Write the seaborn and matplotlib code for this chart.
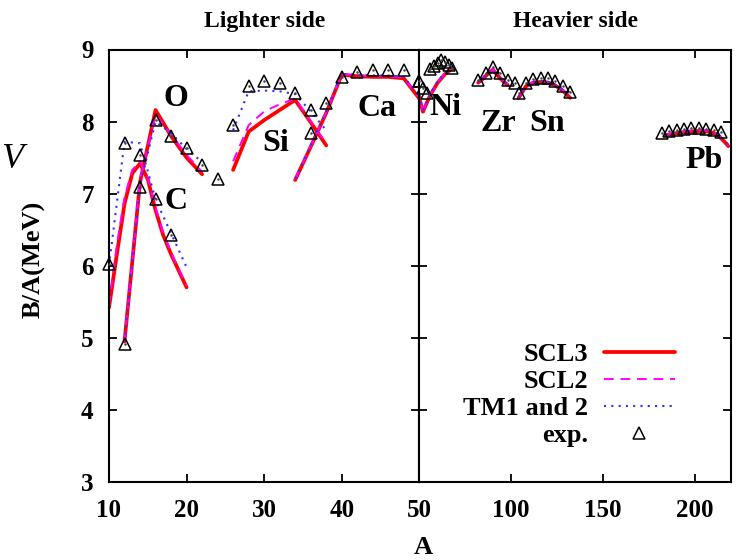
import matplotlib
matplotlib.use("Agg")
import matplotlib.pyplot as plt
from matplotlib.lines import Line2D
import seaborn as sns
import pandas as pd

# ---------------- data ----------------
# Lighter side
C_A = [10, 11, 12, 13, 14, 15, 16, 17, 18, 19, 20]
C_SCL3 = [5.42, 6.15, 6.86, 7.28, 7.42, 7.20, 6.77, 6.42, 6.16, 5.93, 5.70]
C_SCL2 = [5.45, 6.28, 6.95, 7.33, 7.45, 7.22, 6.80, 6.45, 6.18, 5.95, 5.72]
C_A_TM = [10, 12, 14, 16, 18, 20]
C_TM = [6.00, 7.72, 7.70, 6.92, 6.45, 5.98]
C_exp_A = [10, 12, 14, 16, 18]
C_exp = [6.02, 7.70, 7.53, 6.93, 6.42]

O_A = [12, 14, 16, 18, 20, 22]
O_SCL3 = [4.95, 7.16, 8.16, 7.80, 7.50, 7.27]
O_SCL2 = [4.95, 7.20, 8.10, 7.82, 7.54, 7.30]
O_TM = [4.95, 7.12, 8.00, 7.84, 7.62, 7.44]
O_exp_A = [12, 14, 16, 18, 20, 22, 24]
O_exp = [4.91, 7.09, 8.02, 7.80, 7.63, 7.40, 7.20]

Si_A = [26, 28, 30, 32, 34, 36, 38]
Si_SCL3 = [7.33, 7.86, 8.02, 8.16, 8.30, 7.99, 7.67]
Si_SCL2 = [7.45, 7.95, 8.14, 8.24, 8.32, 8.00, 7.70]
Si_TM = [7.88, 8.42, 8.43, 8.42, 8.38, 8.14, 7.88]
Si_exp_A = [26, 28, 30, 32, 34, 36]
Si_exp = [7.95, 8.50, 8.56, 8.53, 8.40, 8.16]

Ca_A = [34, 36, 38, 40, 42, 44, 46, 48, 50, 52]
Ca_SCL3 = [7.19, 7.65, 8.12, 8.65, 8.63, 8.62, 8.62, 8.60, 8.32, 8.14]
Ca_SCL2 = [7.20, 7.66, 8.13, 8.66, 8.64, 8.63, 8.63, 8.61, 8.33, 8.15]
Ca_TM = [7.21, 7.67, 8.14, 8.66, 8.65, 8.64, 8.64, 8.62, 8.35, 8.16]
Ca_exp_A = [36, 38, 40, 42, 44, 46, 48, 50, 52, 54]
Ca_exp = [7.84, 8.26, 8.62, 8.69, 8.71, 8.71, 8.71, 8.56, 8.47, 8.39]

# Heavier side
Ni_A = [52, 56, 60, 64, 68]
Ni_SCL3 = [8.14, 8.37, 8.54, 8.66, 8.74]
Ni_SCL2 = [8.15, 8.38, 8.55, 8.67, 8.75]
Ni_TM = [8.16, 8.39, 8.56, 8.68, 8.76]
Ni_exp_A = [56, 58, 60, 62, 64, 66, 68]
Ni_exp = [8.73, 8.77, 8.81, 8.85, 8.82, 8.78, 8.75]

Zr_A = [82, 84, 86, 88, 90, 92, 94, 96, 98]
Zr_SCL3 = [8.54, 8.58, 8.63, 8.68, 8.72, 8.66, 8.60, 8.55, 8.51]
Zr_SCL2 = [8.55, 8.59, 8.64, 8.69, 8.73, 8.67, 8.61, 8.56, 8.52]
Zr_TM = [8.55, 8.59, 8.64, 8.69, 8.72, 8.66, 8.61, 8.56, 8.52]
Zr_exp_A = [82, 86, 90, 94, 98, 102]
Zr_exp = [8.58, 8.68, 8.76, 8.68, 8.58, 8.53]

Sn_A = [104, 108, 112, 116, 120, 124, 128, 132]
Sn_SCL3 = [8.33, 8.49, 8.54, 8.55, 8.54, 8.50, 8.43, 8.33]
Sn_SCL2 = [8.34, 8.50, 8.55, 8.56, 8.55, 8.51, 8.44, 8.34]
Sn_TM = [8.34, 8.50, 8.55, 8.56, 8.55, 8.51, 8.44, 8.35]
Sn_exp_A = [104, 108, 112, 116, 120, 124, 128, 132]
Sn_exp = [8.40, 8.53, 8.59, 8.61, 8.60, 8.56, 8.50, 8.41]

Pb_A = [184, 190, 196, 202, 208, 212, 216, 218]
Pb_SCL3 = [7.81, 7.84, 7.86, 7.87, 7.86, 7.82, 7.72, 7.66]
Pb_SCL2 = [7.82, 7.85, 7.87, 7.88, 7.87, 7.83, 7.73, 7.67]
Pb_TM = [7.82, 7.85, 7.87, 7.88, 7.87, 7.83, 7.73, 7.68]
Pb_exp_A = [182, 186, 190, 194, 198, 202, 206, 210, 214]
Pb_exp = [7.84, 7.87, 7.89, 7.90, 7.91, 7.91, 7.90, 7.88, 7.85]

labels = [("C", 18.7, 6.89), ("O", 18.6, 8.32), ("Si", 31.5, 7.70), ("Ca", 44.6, 8.18)]
labels_R = [("Ni", 64.0, 8.20), ("Zr", 92.8, 7.98), ("Sn", 119.7, 7.98), ("Pb", 204.6, 7.46)]

# ---------------- style ----------------
sns.set_theme(style="ticks")
plt.rcParams["font.family"] = ["Liberation Serif", "DejaVu Serif"]
plt.rcParams["font.weight"] = "bold"
plt.rcParams["axes.labelweight"] = "bold"
plt.rcParams["axes.titleweight"] = "bold"
for k in ("text.color", "axes.labelcolor", "xtick.color", "ytick.color", "axes.edgecolor"):
    plt.rcParams[k] = "black"

RED = "#ff0000"
MAG = "#ff00ff"
BLUE = "#3030ff"
sty = {
    "SCL3": dict(color=RED, lw=2.7, linestyle="-"),
    "SCL2": dict(color=MAG, lw=1.4, linestyle=(0, (5, 3.5))),
    "TM": dict(color=BLUE, lw=1.5, linestyle=(0, (1, 2.5))),
}

fig = plt.figure(figsize=(7.36, 5.6), dpi=100)
W, H = 736, 560
bot = 1 - 482 / H
hgt = 432.5 / H
axL = fig.add_axes([109 / W, bot, 310.3 / W, hgt])
axR = fig.add_axes([419.3 / W, bot, 311.7 / W, hgt])


def draw_line(ax, A, B, key):
    df = pd.DataFrame({"A": A, "B": B})
    sns.lineplot(data=df, x="A", y="B", ax=ax, estimator=None, sort=False,
                 legend=False, **sty[key])


def draw_exp(ax, A, B, lo, hi):
    df = pd.DataFrame({"A": A, "B": B})
    df = df[(df.A >= lo) & (df.A <= hi)]
    sns.lineplot(data=df, x="A", y="B", ax=ax, estimator=None, sort=False,
                 legend=False, marker="^", linestyle="none", ms=8.5,
                 mfc="none", mec="black", mew=1.1, clip_on=False, zorder=6)
    sns.lineplot(data=df, x="A", y="B", ax=ax, estimator=None, sort=False,
                 legend=False, marker="o", linestyle="none", ms=1.8,
                 mfc="#444444", mec="#444444", mew=0, clip_on=False, zorder=6)


left_chains = [
    (C_A, C_SCL3, C_A, C_SCL2, C_A_TM, C_TM),
    (O_A, O_SCL3, O_A, O_SCL2, O_A, O_TM),
    (Si_A, Si_SCL3, Si_A, Si_SCL2, Si_A, Si_TM),
    (Ca_A, Ca_SCL3, Ca_A, Ca_SCL2, Ca_A, Ca_TM),
]
right_chains = [
    (Ca_A, Ca_SCL3, Ca_A, Ca_SCL2, Ca_A, Ca_TM),
    (Ni_A, Ni_SCL3, Ni_A, Ni_SCL2, Ni_A, Ni_TM),
    (Zr_A, Zr_SCL3, Zr_A, Zr_SCL2, Zr_A, Zr_TM),
    (Sn_A, Sn_SCL3, Sn_A, Sn_SCL2, Sn_A, Sn_TM),
    (Pb_A, Pb_SCL3, Pb_A, Pb_SCL2, Pb_A, Pb_TM),
]
for ax, chains in ((axL, left_chains), (axR, right_chains)):
    for key, i in (("SCL3", 0), ("SCL2", 2), ("TM", 4)):
        for ch in chains:
            draw_line(ax, ch[i], ch[i + 1], key)

for A, B in ((C_exp_A, C_exp), (O_exp_A, O_exp), (Si_exp_A, Si_exp), (Ca_exp_A, Ca_exp)):
    draw_exp(axL, A, B, 9, 50)
for A, B in ((Ca_exp_A, Ca_exp), (Ni_exp_A, Ni_exp), (Zr_exp_A, Zr_exp),
             (Sn_exp_A, Sn_exp), (Pb_exp_A, Pb_exp)):
    draw_exp(axR, A, B, 50, 220)

axL.set_xlim(10, 50)
axR.set_xlim(50, 219.5)
for ax in (axL, axR):
    ax.set_ylim(3, 9)
    ax.set_yticks([3, 4, 5, 6, 7, 8, 9])
    ax.set_xlabel("")
    ax.set_ylabel("")
    for s in ax.spines.values():
        s.set_visible(True)
        s.set_linewidth(1.5)
        s.set_color("black")
    ax.tick_params(direction="in", length=6, width=1.3, top=True, right=True,
                   left=True, bottom=True, colors="black", labelsize=18)
    ax.tick_params(axis="x", pad=12)
    ax.tick_params(axis="y", pad=11)
    ax.set_facecolor("white")

axL.set_xticks([10, 20, 30, 40, 50])
axL.set_xticklabels(["10", "20", "30", "40", ""])
axR.set_xticks([50, 100, 150, 200])
axR.set_xticklabels(["50", "100", "150", "200"])
axR.set_yticklabels([])

axL.set_title("Lighter side", fontsize=17, pad=16, color="black")
axR.set_title("Heavier side", fontsize=17, pad=16, color="black")

for t, x, y in labels:
    axL.text(x, y, t, ha="center", va="center", fontsize=23, color="black")
for t, x, y in labels_R:
    axR.text(x, y, t, ha="center", va="center", fontsize=23, color="black")

fig.text(423 / W, 1 - 547 / H, "A", ha="center", va="center", fontsize=19)
fig.text(34 / W, 1 - 259 / H, "B/A(MeV)", rotation=90, ha="center",
         va="center", fontsize=19)
fig.text(1 / W, 1 - 160 / H, "V", ha="left", va="center", fontsize=26,
         style="italic", fontweight="normal")

handles = [
    Line2D([], [], **sty["SCL3"]),
    Line2D([], [], **sty["SCL2"]),
    Line2D([], [], **sty["TM"]),
    Line2D([], [], marker="^", linestyle="none", ms=8.5, mfc="none", mec="black", mew=1.1),
]
leg = axR.legend(handles, ["SCL3", "SCL2", "TM1 and 2", "exp."], loc="upper right",
                 bbox_to_anchor=(0.82, 0.322), frameon=False, markerfirst=False,
                 fontsize=19, handlelength=2.7, handletextpad=0.6,
                 labelspacing=0.13, borderpad=0, borderaxespad=0, numpoints=1)

fig.savefig("out.png", dpi=100, facecolor="white")
